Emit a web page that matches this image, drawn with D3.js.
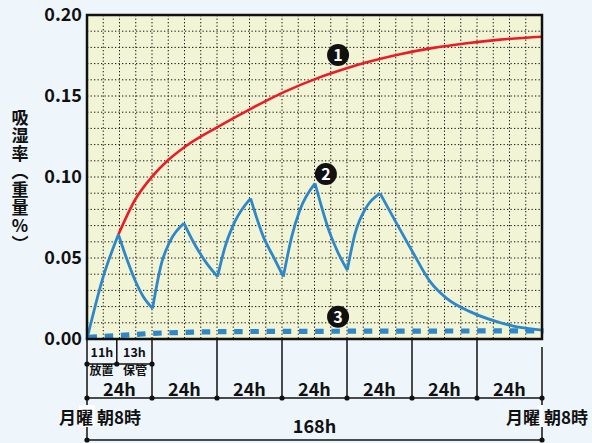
<!DOCTYPE html>
<html><head><meta charset="utf-8">
<script src="https://cdn.jsdelivr.net/npm/d3@7"></script>
<style>
html,body{margin:0;padding:0;background:#eef6fc;}
text{font-family:"Noto Sans CJK JP","Noto Sans",sans-serif;}
</style></head>
<body><svg id="c" width="592" height="443"></svg>
<script>
// ---- data ----
const yTicks = [0, 0.05, 0.10, 0.15, 0.20];
const redHours  = [11.6, 17.7, 24, 30, 36.2, 48.5, 60.8, 73.1, 85.4, 95.3, 103.3, 115.6, 127.9, 140.2, 152.5, 168];
const redValues = [0.0645, 0.0858, 0.1002, 0.1105, 0.1187, 0.1311, 0.1424, 0.1527, 0.1612, 0.1668, 0.1708, 0.1758, 0.1797, 0.1826, 0.1848, 0.1866];
const blueHours  = [0, 6, 11.6, 14.6, 17.7, 20.8, 24.2, 27.5, 30.6, 35.8, 39.9, 44.2, 48.2, 51, 54.6, 60.4, 65.1, 68.8, 72.5, 75.6, 78.6, 84.2, 89.7, 92.8, 96.1, 99, 103.3, 108.2, 114.3, 120.5, 126.7, 132.8, 141.4, 151.3, 157.4, 168];
const blueValues = [0, 0.0385, 0.0645, 0.0498, 0.0364, 0.0261, 0.0189, 0.0467, 0.0601, 0.0714, 0.058, 0.0467, 0.0385, 0.057, 0.0724, 0.0868, 0.0632, 0.0508, 0.0385, 0.0632, 0.0796, 0.0961, 0.0652, 0.0529, 0.0426, 0.0652, 0.0817, 0.0899, 0.0714, 0.0529, 0.0354, 0.0251, 0.0169, 0.0107, 0.008, 0.0055];
const dotHours  = [0, 12, 24, 36, 48, 96, 168];
const dotValues = [0.001, 0.0022, 0.0035, 0.0041, 0.0045, 0.0048, 0.005];
const markerLabels = ["1", "2", "3"];
const markerHours  = [92.7, 88.2, 92.7];
const markerValues = [0.1753, 0.1019, 0.0137];
const dayBounds = [0, 24, 48, 72, 96, 120, 144, 168];
const dayLabel = "24h";
const subBounds = [0, 11, 24];
const subLabels = ["11h", "13h"];
const subNames = ["放置", "保管"];
const totalLabel = "168h";
const timeLabel = "月曜 朝8時";
const yTitle = "吸湿率（重量%）";

// ---- layout ----
const L = 87, R = 542, T = 15, B = 339;
const svg = d3.select("#c");
const x = d3.scaleLinear().domain([0, 168]).range([L, R]);
const y = d3.scaleLinear().domain([0, 0.2]).range([B, T]);

svg.append("rect").attr("x", L).attr("y", T).attr("width", R - L).attr("height", B - T).attr("fill", "#f1f5d6");

// grid
const g = svg.append("g");
g.selectAll("line.v").data(d3.range(6, 168, 6)).join("line")
  .attr("x1", d => x(d)).attr("x2", d => x(d)).attr("y1", T).attr("y2", B)
  .attr("stroke", "#111").attr("stroke-width", 1).attr("stroke-dasharray", "1.3,2.2");
g.selectAll("line.h").data(d3.range(1, 20).map(i => i * 0.01)).join("line")
  .attr("y1", d => y(d)).attr("y2", d => y(d)).attr("x1", L).attr("x2", R)
  .attr("stroke", "#111").attr("stroke-width", 1).attr("stroke-dasharray", "1.3,2.2");

// y axis labels
const yAxis = d3.axisLeft(y).tickValues(yTicks).tickFormat(d3.format(".2f")).tickSize(0).tickPadding(5);
const ya = svg.append("g").attr("transform", `translate(${L},0)`).call(yAxis);
ya.select(".domain").remove();
ya.selectAll("text").attr("font-size", 18).attr("font-weight", "bold").attr("fill", "#111")
  .attr("font-family", '"Noto Sans CJK JP",sans-serif');

// y title (vertical)
svg.append("text").attr("x", 20).attr("y", 109)
  .attr("style", "writing-mode:vertical-rl;text-orientation:upright;font-size:17px;font-weight:bold;letter-spacing:1px")
  .attr("fill", "#111").text(yTitle);

// series
const redData = redHours.map((h, i) => [h, redValues[i]]);
svg.append("path").datum(redData)
  .attr("d", d3.line().x(d => x(d[0])).y(d => y(d[1])).curve(d3.curveMonotoneX))
  .attr("fill", "none").attr("stroke", "#ec1c24").attr("stroke-width", 2.6);

// blue: split into monotone pieces for sharp cusps
const blueData = blueHours.map((h, i) => [h, blueValues[i]]);
const pieces = [];
let cur = [blueData[0]];
for (let i = 1; i < blueData.length; i++) {
  cur.push(blueData[i]);
  if (i < blueData.length - 1) {
    const a = blueData[i - 1][1], b = blueData[i][1], c = blueData[i + 1][1];
    if ((b - a) * (c - b) < 0) { pieces.push(cur); cur = [blueData[i]]; }
  }
}
pieces.push(cur);
svg.append("g").selectAll("path").data(pieces).join("path")
  .attr("d", d => d3.line().x(p => x(p[0])).y(p => y(p[1])).curve(d3.curveMonotoneX)(d))
  .attr("fill", "none").attr("stroke", "#2d87c9").attr("stroke-width", 2.8);

const dotData = dotHours.map((h, i) => [h, dotValues[i]]);
svg.append("path").datum(dotData).attr("d", d3.line().x(d => x(d[0])).y(d => y(d[1])).curve(d3.curveMonotoneX))
  .attr("fill", "none").attr("stroke", "#2d87c9").attr("stroke-width", 5.2).attr("stroke-dasharray", "8.5,7.7")
  .attr("transform", "translate(1.5,0)");

// frame
svg.append("rect").attr("x", L).attr("y", T).attr("width", R - L).attr("height", B - T)
  .attr("fill", "none").attr("stroke", "#111").attr("stroke-width", 2.5);

// markers
const mk = svg.append("g").selectAll("g").data(markerLabels).join("g")
  .attr("transform", (d, i) => `translate(${x(markerHours[i])},${y(markerValues[i])})`);
mk.append("circle").attr("r", 11).attr("fill", "#111");
mk.append("text").attr("text-anchor", "middle").attr("dy", "0.36em").attr("font-size", 16)
  .attr("font-weight", "bold").attr("fill", "#fff").text(d => d);

// time structure below
const ln = svg.append("g").attr("stroke", "#111").attr("stroke-width", 1.5);
const yS = 364, yD = 398, yT = 440;
dayBounds.forEach(h => {
  let y1 = B, y2 = yD;
  if (h === 0) y2 = yT;
  if (h === 168) { y1 = 347; y2 = yT; }
  ln.append("line").attr("x1", x(h)).attr("x2", x(h)).attr("y1", y1).attr("y2", y2);
});
ln.append("line").attr("x1", x(11)).attr("x2", x(11)).attr("y1", B).attr("y2", yS);
ln.append("line").attr("x1", x(0)).attr("x2", x(24)).attr("y1", yS).attr("y2", yS);
ln.append("line").attr("x1", x(0)).attr("x2", x(168)).attr("y1", yD).attr("y2", yD);
ln.append("line").attr("x1", x(0)).attr("x2", x(168)).attr("y1", yT).attr("y2", yT);

const dots = [];
subBounds.forEach(h => dots.push([x(h), yS]));
dayBounds.forEach(h => dots.push([x(h), yD]));
dots.push([x(0), yT], [x(168), yT]);
svg.append("g").selectAll("circle").data(dots).join("circle")
  .attr("cx", d => d[0]).attr("cy", d => d[1]).attr("r", 2.6).attr("fill", "#111");

// sub labels
subLabels.forEach((t, i) => {
  const cx = x((subBounds[i] + subBounds[i + 1]) / 2);
  svg.append("text").attr("x", cx).attr("y", 357).attr("text-anchor", "middle")
    .attr("font-size", 12.5).attr("font-weight", "bold").attr("fill", "#111").text(t);
  svg.append("text").attr("x", cx + (i === 0 ? -0.5 : 0.5)).attr("y", 374.5).attr("text-anchor", "middle")
    .attr("font-size", 12).attr("font-weight", "bold").attr("fill", "#111").text(subNames[i]);
});
// day labels
d3.range(7).forEach(i => {
  svg.append("text").attr("x", x(dayBounds[i] + 12)).attr("y", 396).attr("text-anchor", "middle")
    .attr("font-family", '"Liberation Sans",Arial,sans-serif')
    .attr("font-size", 18).attr("font-weight", "bold").attr("fill", "#111").text(dayLabel);
});
// time labels with white patch over the line
svg.append("rect").attr("x", 79).attr("y", 405).attr("width", 16).attr("height", 22).attr("fill", "#fff");
svg.append("rect").attr("x", 537).attr("y", 405).attr("width", 6).attr("height", 22).attr("fill", "#fff");
svg.append("text").attr("x", 100).attr("y", 424).attr("text-anchor", "middle")
  .attr("font-size", 17).attr("font-weight", "bold").attr("fill", "#111").text(timeLabel);
svg.append("text").attr("x", 547).attr("y", 424).attr("text-anchor", "middle")
  .attr("font-size", 17).attr("font-weight", "bold").attr("fill", "#111").text(timeLabel);
svg.append("text").attr("x", x(84)).attr("y", 433).attr("text-anchor", "middle")
  .attr("font-size", 18).attr("font-weight", "bold").attr("fill", "#111").text(totalLabel);
</script></body></html>
